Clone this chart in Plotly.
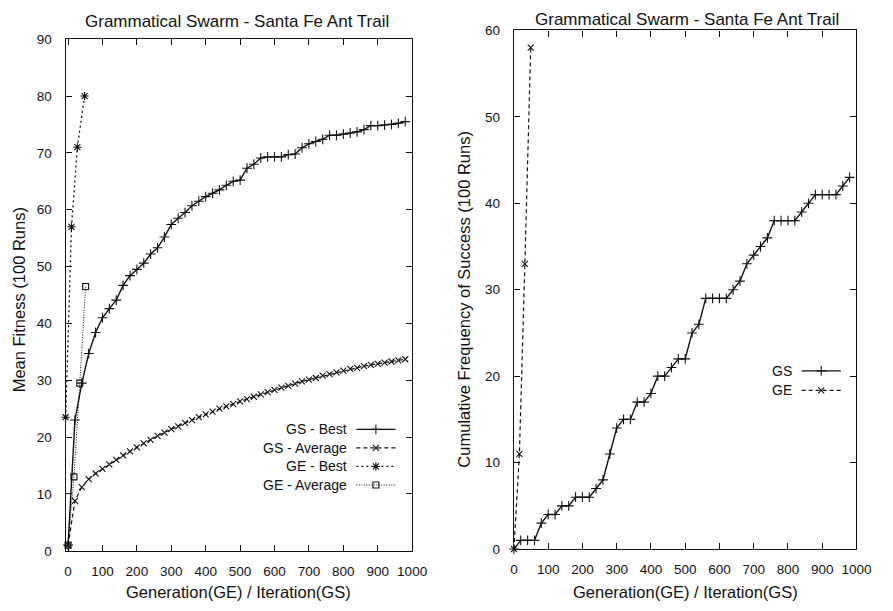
import plotly.graph_objects as go

# ---------------- data ----------------
gs_iter = [0, 20, 40, 60, 80, 100, 120, 140, 160, 180, 200, 220, 240, 260, 280, 300, 320, 340,
           360, 380, 400, 420, 440, 460, 480, 500, 520, 540, 560, 580, 600, 620, 640, 660,
           680, 700, 720, 740, 760, 780, 800, 820, 840, 860, 880, 900, 920, 940, 960, 980]

gs_best = [1.0, 23.0, 29.5, 34.7, 38.4, 41.0, 42.6, 44.1, 46.7, 48.4, 49.5, 50.6, 52.2, 53.3,
           55.2, 57.4, 58.5, 59.5, 60.7, 61.5, 62.3, 62.9, 63.5, 64.3, 65.0, 65.2, 67.3, 68.0,
           69.1, 69.3, 69.3, 69.3, 69.7, 69.8, 70.9, 71.6, 72.0, 72.4, 73.1, 73.1, 73.3, 73.5,
           73.7, 74.1, 74.8, 74.8, 74.9, 75.0, 75.2, 75.5]

gs_avg = [1.0, 8.8, 11.2, 12.6, 13.6, 14.4, 15.2, 16.0, 16.8, 17.5, 18.2, 18.9, 19.5, 20.2,
          20.8, 21.4, 21.9, 22.5, 23.0, 23.5, 24.0, 24.5, 25.0, 25.4, 25.8, 26.3, 26.7, 27.1,
          27.5, 27.9, 28.3, 28.7, 29.0, 29.4, 29.8, 30.1, 30.4, 30.8, 31.1, 31.4, 31.7, 32.0,
          32.2, 32.5, 32.7, 32.9, 33.1, 33.3, 33.5, 33.7]

ge_best_gen = [-7, 10, 27, 48]
ge_best = [23.5, 57.0, 71.0, 80.0]

ge_avg_gen = [0, 17, 34, 51]
ge_avg = [1.0, 13.0, 29.5, 46.5]

gs_success = [0, 1, 1, 1, 3, 4, 4, 5, 5, 6, 6, 6, 7, 8, 11, 14, 15, 15, 17, 17, 18, 20, 20, 21,
              22, 22, 25, 26, 29, 29, 29, 29, 30, 31, 33, 34, 35, 36, 38, 38, 38, 38, 39, 40,
              41, 41, 41, 41, 42, 43]

ge_succ_gen = [0, 16, 32, 49]
ge_success = [0, 11, 33, 58]

x_ticks = [0, 100, 200, 300, 400, 500, 600, 700, 800, 900, 1000]
y1_ticks = [0, 10, 20, 30, 40, 50, 60, 70, 80, 90]
y2_ticks = [0, 10, 20, 30, 40, 50, 60]

title_text = "Grammatical Swarm - Santa Fe Ant Trail"
xlab = "Generation(GE) / Iteration(GS)"
ylab_left = "Mean Fitness (100 Runs)"
ylab_right = "Cumulative Frequency of Success (100 Runs)"

# ---------------- styling ----------------
W, H = 893, 611
FONT = "Liberation Sans, Arial, Helvetica, sans-serif"
BLACK = "#111111"

styles = {
    "GS - Best": dict(dash="solid", symbol="cross-thin", size=7, lw=1.4),
    "GS - Average": dict(dash="4px,3px", symbol="x-thin", size=6, lw=1.2),
    "GE - Best": dict(dash="2px,3px", symbol="asterisk", size=7, lw=1.3),
    "GE - Average": dict(dash="1px,1.5px", symbol="square-open", size=6, lw=1.0),
    "GS": dict(dash="solid", symbol="cross-thin", size=7, lw=1.4),
    "GE": dict(dash="4px,3px", symbol="x-thin", size=6, lw=1.2),
}

fig = go.Figure()


def add_series(x, y, name, xa, ya):
    s = styles[name]
    fig.add_trace(go.Scatter(
        x=x, y=y, name=name, mode="lines+markers", xaxis=xa, yaxis=ya, showlegend=False,
        line=dict(color=BLACK, width=s["lw"], dash=s["dash"]),
        marker=dict(symbol=s["symbol"], size=s["size"], color=BLACK,
                    line=dict(color=BLACK, width=1.1)),
        cliponaxis=False))


add_series(gs_iter, gs_best, "GS - Best", "x", "y")
add_series(gs_iter, gs_avg, "GS - Average", "x", "y")
add_series(ge_best_gen, ge_best, "GE - Best", "x", "y")
add_series(ge_avg_gen, ge_avg, "GE - Average", "x", "y")
add_series(gs_iter, gs_success, "GS", "x2", "y2")
add_series(ge_succ_gen, ge_success, "GE", "x2", "y2")


# ---- custom gnuplot-style keys (text right, sample left) on a pixel overlay axis ----
def add_key(names, text_right, x1, x2, y0, dy):
    for i, n in enumerate(names):
        s = styles[n]
        yy = y0 + i * dy
        fig.add_trace(go.Scatter(x=[x1, x2], y=[yy, yy], mode="lines", xaxis="x3", yaxis="y3",
                                 showlegend=False, hoverinfo="skip",
                                 line=dict(color=BLACK, width=s["lw"], dash=s["dash"])))
        fig.add_trace(go.Scatter(x=[(x1 + x2) / 2], y=[yy], mode="markers", xaxis="x3",
                                 yaxis="y3", showlegend=False, hoverinfo="skip",
                                 marker=dict(symbol=s["symbol"], size=s["size"], color=BLACK,
                                             line=dict(color=BLACK, width=1.1))))
        fig.add_annotation(x=text_right / W, y=1 - yy / H, xref="paper", yref="paper",
                           text=n, showarrow=False, xanchor="right", yanchor="middle",
                           font=dict(family=FONT, size=14, color=BLACK))


add_key(["GS - Best", "GS - Average", "GE - Best", "GE - Average"], 353, 360, 400, 433, 19)
add_key(["GS", "GE"], 807, 815, 855, 373, 20)

axis_common = dict(showline=True, linecolor=BLACK, linewidth=1.3, mirror="ticks",
                   ticks="inside", ticklen=6, tickwidth=1.2, tickcolor=BLACK,
                   showgrid=False, zeroline=False,
                   tickfont=dict(family=FONT, size=13.5, color=BLACK))

fig.update_layout(
    width=W, height=H, margin=dict(l=0, r=0, t=0, b=0),
    paper_bgcolor="white", plot_bgcolor="rgba(0,0,0,0)",
    xaxis=dict(domain=[63 / W, 417 / W], range=[-7, 1000], tickvals=x_ticks, anchor="y",
               ticklabelstandoff=8, **axis_common),
    yaxis=dict(domain=[(H - 557.5) / H, (H - 33) / H], range=[0, 90], tickvals=y1_ticks,
               anchor="x", ticklabelstandoff=10, **axis_common),
    xaxis2=dict(domain=[521 / W, 871 / W], range=[0, 1000], tickvals=x_ticks, anchor="y2",
                ticklabelstandoff=8, **axis_common),
    yaxis2=dict(domain=[(H - 555.7) / H, (H - 24) / H], range=[0, 60], tickvals=y2_ticks,
                anchor="x2", ticklabelstandoff=10, **axis_common),
    xaxis3=dict(domain=[0, 1], range=[0, W], visible=False, fixedrange=True, anchor="y3"),
    yaxis3=dict(domain=[0, 1], range=[H, 0], visible=False, fixedrange=True, anchor="x3"),
)


def text_at(px, py, txt, size, angle=0):
    fig.add_annotation(x=px / W, y=1 - py / H, xref="paper", yref="paper", text=txt,
                       showarrow=False, xanchor="center", yanchor="middle", textangle=angle,
                       font=dict(family=FONT, size=size, color=BLACK))


text_at(238, 15, title_text, 17)
text_at(698, 13, title_text, 17)
text_at(240, 600, xlab, 16.5)
text_at(696, 600, xlab, 16.5)
text_at(15, 300, ylab_left, 16.5, -90)
text_at(470, 300, ylab_right, 16.5, -90)

fig.write_html("out.html")
